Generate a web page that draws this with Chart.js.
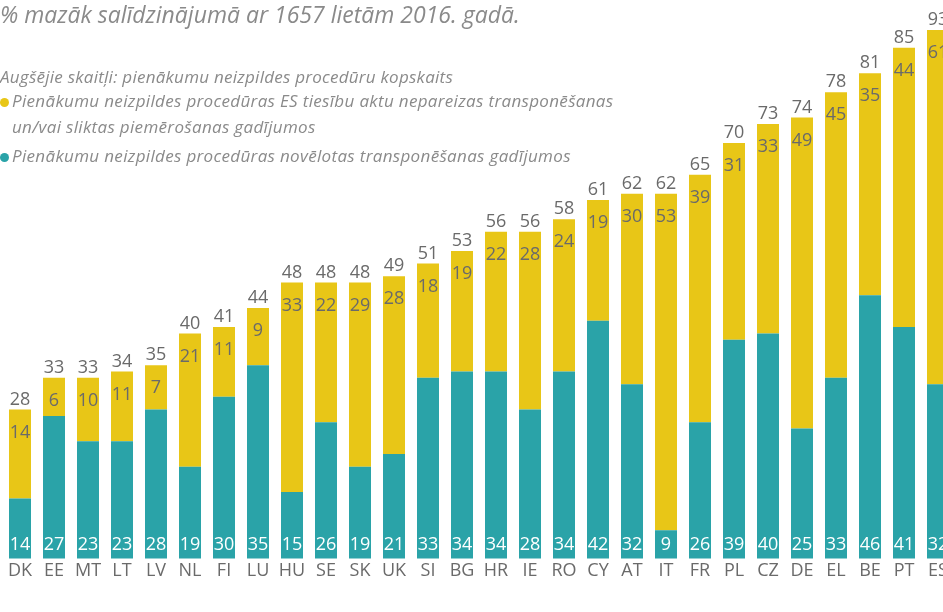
<!DOCTYPE html>
<html>
<head>
<meta charset="utf-8">
<script src="https://cdn.jsdelivr.net/npm/chart.js@4/dist/chart.umd.min.js"></script>
<style>
  html, body { margin: 0; padding: 0; width: 943px; height: 612px; overflow: hidden; background: #fff; }
  #wrap { position: absolute; left: 0; top: 0; width: 955px; height: 612px; }
  .t { position: absolute; white-space: nowrap; font-family: "Open Sans", sans-serif; font-style: italic; color: #8a8a8a; }
  .lg { font-size: 17px; line-height: 20px; letter-spacing: 0.33px; }
  .dot { position: absolute; width: 9px; height: 9px; border-radius: 50%; }
</style>
</head>
<body>
<div id="wrap"><canvas id="c" width="955" height="612"></canvas></div>
<div class="t" style="left:0; top:0px; font-size:23px; line-height:28px;">% mazāk salīdzinājumā ar 1657 lietām 2016. gadā.</div>
<div class="t lg" style="left:0; top:67px; letter-spacing:0.25px;">Augšējie skaitļi: pienākumu neizpildes procedūru kopskaits</div>
<div class="dot" style="left:0; top:98px; background:#E8C617;"></div>
<div class="t lg" style="left:12px; top:91px;">Pienākumu neizpildes procedūras ES tiesību aktu nepareizas transponēšanas</div>
<div class="t lg" style="left:12px; top:117px;">un/vai sliktas piemērošanas gadījumos</div>
<div class="dot" style="left:0; top:153px; background:#2AA3A8;"></div>
<div class="t lg" style="left:12px; top:146px;">Pienākumu neizpildes procedūras novēlotas transponēšanas gadījumos</div>
<script>
const categories = ["DK","EE","MT","LT","LV","NL","FI","LU","HU","SE","SK","UK","SI","BG","HR","IE","RO","CY","AT","IT","FR","PL","CZ","DE","EL","BE","PT","ES"];
const lateTransposition = [14,27,23,23,28,19,30,35,15,26,19,21,33,34,34,28,34,42,32,9,26,39,40,25,33,46,41,32];
const incorrectTransposition = [14,6,10,11,7,21,11,9,33,22,29,28,18,19,22,28,24,19,30,53,39,31,33,49,45,35,44,61];
const totals = [28,33,33,34,35,40,41,44,48,48,48,49,51,53,56,56,58,61,62,62,65,70,73,74,78,81,85,93];

const TEAL = "#2AA3A8";
const YELLOW = "#E8C617";
const FONT = '"Open Sans", sans-serif';

const labelPlugin = {
  id: "valueLabels",
  afterDatasetsDraw(chart) {
    const ctx = chart.ctx;
    const area = chart.chartArea;
    const m0 = chart.getDatasetMeta(0);
    const m1 = chart.getDatasetMeta(1);
    ctx.save();
    ctx.textAlign = "center";
    ctx.textBaseline = "middle";
    ctx.font = "18px " + FONT;
    m0.data.forEach((el, i) => {
      ctx.fillStyle = "#ffffff";
      ctx.fillText(String(lateTransposition[i]), el.x, area.bottom - 14);
    });
    m1.data.forEach((el, i) => {
      const top = Math.max(el.y, area.top);
      ctx.fillStyle = "#6a6a6a";
      ctx.fillText(String(incorrectTransposition[i]), el.x, top + 23);
      ctx.fillText(String(totals[i]), el.x, top - 10);
    });
    ctx.restore();
  }
};

new Chart(document.getElementById("c"), {
  type: "bar",
  data: {
    labels: categories,
    datasets: [
      { label: "Pienākumu neizpildes procedūras novēlotas transponēšanas gadījumos", data: lateTransposition, backgroundColor: TEAL },
      { label: "Pienākumu neizpildes procedūras ES tiesību aktu nepareizas transponēšanas un/vai sliktas piemērošanas gadījumos", data: incorrectTransposition, backgroundColor: YELLOW }
    ]
  },
  options: {
    responsive: false,
    animation: false,
    devicePixelRatio: 1,
    layout: { padding: { left: 3, right: 0, top: 30, bottom: 28 } },
    plugins: { legend: { display: false }, tooltip: { enabled: false } },
    datasets: { bar: { categoryPercentage: 1, barPercentage: 0.647 } },
    scales: {
      x: {
        stacked: true,
        grid: { display: false, drawTicks: false },
        border: { display: false },
        ticks: { color: "#6a6a6a", font: { family: FONT, size: 18 }, padding: 2, maxRotation: 0, autoSkip: false }
      },
      y: {
        stacked: true,
        display: false,
        min: 4.55,
        max: 87.8
      }
    }
  },
  plugins: [labelPlugin]
});
</script>
</body>
</html>
